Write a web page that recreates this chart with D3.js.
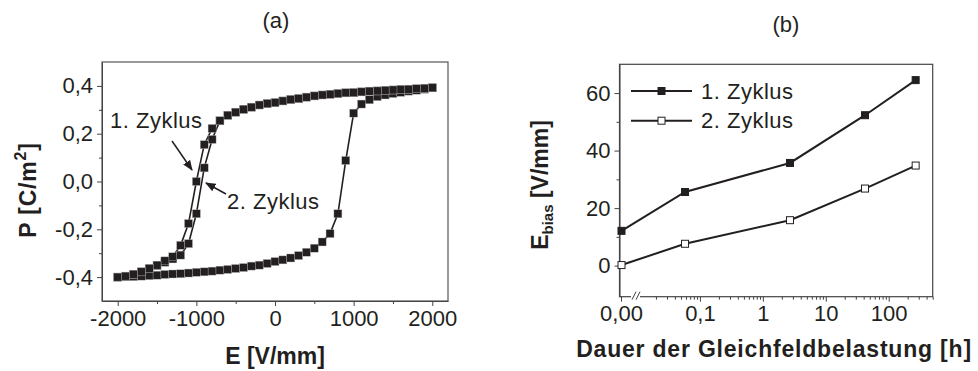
<!DOCTYPE html>
<html lang="de">

<head>
    <meta charset="UTF-8">
    <script src="https://d3js.org/d3.v7.min.js"></script>
    <title>Hysterese und Ebias</title>
    <style>
        body { margin: 0; background: #fff; }
        text { font-family: "Liberation Sans", Arial, sans-serif; fill: #231f20; }
        .tick text { font-size: 22px; }
        .axis path, .axis line { stroke: #444; }
        .title { font-weight: bold; font-size: 23px; }
    </style>
</head>

<body>
    <svg id="chart" width="978" height="371"></svg>

    <script>
        // ---- data (a): P-E loop, E in V/mm, P in C/m^2 ----
        var eDown = [2000, 1900, 1800, 1700, 1600, 1500, 1400, 1300, 1200, 1100, 1000, 900, 800, 700, 600, 500, 400, 300, 200, 100, 0,
            -100, -200, -300, -400, -500, -600, -700, -800, -900, -1000, -1100, -1200, -1300, -1400, -1500, -1600, -1700, -1800, -1900, -2000];
        var pDown1 = [0.392, 0.390, 0.388, 0.386, 0.385, 0.383, 0.381, 0.379, 0.378, 0.375, 0.372, 0.371, 0.368, 0.365, 0.362, 0.358, 0.353, 0.347, 0.343, 0.337, 0.330,
            0.326, 0.320, 0.311, 0.302, 0.290, 0.277, 0.254, 0.222, 0.154, 0.000, -0.176, -0.267, -0.315, -0.332, -0.350, -0.364, -0.378, -0.388, -0.396, -0.400];
        var pDown2 = [0.392, 0.390, 0.388, 0.386, 0.385, 0.383, 0.381, 0.379, 0.378, 0.375, 0.372, 0.371, 0.368, 0.365, 0.362, 0.358, 0.353, 0.347, 0.343, 0.337, 0.330,
            0.326, 0.320, 0.311, 0.302, 0.290, 0.277, 0.254, 0.176, 0.057, -0.135, -0.260, -0.308, -0.324, -0.338, -0.352, -0.364, -0.378, -0.388, -0.396, -0.400];
        var eUp = [-2000, -1900, -1800, -1700, -1600, -1500, -1400, -1300, -1200, -1100, -1000, -900, -800, -700, -600, -500, -400, -300, -200, -100, 0,
            100, 200, 300, 400, 500, 600, 700, 800, 900, 1000, 1100, 1200, 1300, 1400, 1500, 1600, 1700, 1800, 1900, 2000];
        var pUp = [-0.400, -0.399, -0.398, -0.396, -0.394, -0.392, -0.389, -0.387, -0.386, -0.383, -0.380, -0.378, -0.375, -0.371, -0.368, -0.364, -0.360, -0.354, -0.350, -0.343, -0.335,
            -0.328, -0.320, -0.310, -0.296, -0.279, -0.253, -0.218, -0.135, 0.088, 0.286, 0.324, 0.342, 0.355, 0.362, 0.368, 0.373, 0.378, 0.382, 0.386, 0.392];

        // ---- data (b): E_bias vs. duration ----
        var dauer = [0, 0.058, 2.7, 42, 268];
        var zyklus1 = [12.1, 25.6, 35.7, 52.3, 64.5];
        var zyklus2 = [0.2, 7.6, 15.8, 26.8, 34.8];
        var legendNames = ["1. Zyklus", "2. Zyklus"];

        // tick labels
        var aTicksX = [-2000, -1000, 0, 1000, 2000];
        var aTicksY = [-0.4, -0.2, 0, 0.2, 0.4];
        var bTicksY = [0, 20, 40, 60];
        var bTicksX = [0.1, 1, 10, 100];
        var bLabelsX = ["0,1", "1", "10", "100"];

        var svg = d3.select("#chart");
        var comma = function (d) { return d3.format(".1f")(d).replace(".", ",").replace("−", "-"); };

        function zip(xs, ys) {
            return xs.map(function (x, i) { return [x, ys[i]]; });
        }

        // ================= panel (a) =================
        var A = { left: 102, right: 448, top: 62, bottom: 301 };
        var xA = d3.scaleLinear().domain([-2200, 2200]).range([A.left, A.right]);
        var yA = d3.scaleLinear().domain([-0.5, 0.5]).range([A.bottom, A.top]);

        var ga = svg.append("g");

        // frame
        ga.append("rect")
            .attr("x", A.left).attr("y", A.top)
            .attr("width", A.right - A.left).attr("height", A.bottom - A.top)
            .attr("fill", "none").attr("stroke", "#555").attr("stroke-width", 1.2);

        // axes (minor ticks first, then labelled major ticks)
        ga.append("g").attr("class", "axis")
            .attr("transform", "translate(0," + A.bottom + ")")
            .call(d3.axisBottom(xA).tickValues([-1500, -500, 500, 1500]).tickSize(3).tickSizeOuter(0).tickFormat(""));
        ga.append("g").attr("class", "axis")
            .attr("transform", "translate(0," + A.bottom + ")")
            .call(d3.axisBottom(xA).tickValues(aTicksX).tickSize(5).tickSizeOuter(0).tickPadding(4)
                .tickFormat(function (d) { return d < 0 ? "-" + Math.abs(d) : d; }))
            .call(function (g) { g.select(".domain").remove(); });

        ga.append("g").attr("class", "axis")
            .attr("transform", "translate(" + A.left + ",0)")
            .call(d3.axisLeft(yA).tickValues([-0.3, -0.1, 0.1, 0.3]).tickSize(3).tickSizeOuter(0).tickFormat(""));
        ga.append("g").attr("class", "axis")
            .attr("transform", "translate(" + A.left + ",0)")
            .call(d3.axisLeft(yA).tickValues(aTicksY).tickSize(5).tickSizeOuter(0).tickPadding(4).tickFormat(comma))
            .call(function (g) { g.select(".domain").remove(); });

        ga.selectAll(".tick text").attr("fill", "#231f20");

        // loop lines + square markers
        var lineA = d3.line()
            .x(function (d) { return xA(d[0]); })
            .y(function (d) { return yA(d[1]); });

        var loops = [zip(eUp, pUp), zip(eDown, pDown2), zip(eDown, pDown1)];
        loops.forEach(function (pts) {
            ga.append("path").datum(pts)
                .attr("d", lineA)
                .attr("fill", "none")
                .attr("stroke", "#231f20")
                .attr("stroke-width", 1.6);
        });
        loops.forEach(function (pts) {
            ga.append("g").selectAll("rect")
                .data(pts)
                .enter()
                .append("rect")
                .attr("x", function (d) { return xA(d[0]) - 4; })
                .attr("y", function (d) { return yA(d[1]) - 4; })
                .attr("width", 8).attr("height", 8)
                .attr("fill", "#231f20")
                .attr("stroke", "#bbb").attr("stroke-width", 0.4);
        });

        // annotations
        var marker = svg.append("defs").append("marker")
            .attr("id", "arr").attr("viewBox", "0 0 10 10")
            .attr("refX", 9).attr("refY", 5)
            .attr("markerWidth", 7).attr("markerHeight", 7)
            .attr("orient", "auto");
        marker.append("path").attr("d", "M0,1 L10,5 L0,9 z").attr("fill", "#231f20");

        ga.append("text").attr("x", 110).attr("y", 128).attr("font-size", 22).attr("letter-spacing", 0.5).text("1. Zyklus");
        ga.append("line")
            .attr("x1", 172).attr("y1", 141).attr("x2", 192).attr("y2", 170)
            .attr("stroke", "#231f20").attr("stroke-width", 1.5).attr("marker-end", "url(#arr)");
        ga.append("text").attr("x", 227).attr("y", 209).attr("font-size", 22).attr("letter-spacing", 0.5).text("2. Zyklus");
        ga.append("line")
            .attr("x1", 226).attr("y1", 194).attr("x2", 206).attr("y2", 183)
            .attr("stroke", "#231f20").attr("stroke-width", 1.5).attr("marker-end", "url(#arr)");

        // titles
        ga.append("text").attr("x", 276).attr("y", 28).attr("font-size", 22)
            .attr("text-anchor", "middle").text("(a)");
        ga.append("text").attr("class", "title").attr("x", (A.left + A.right) / 2).attr("y", 364)
            .attr("text-anchor", "middle").text("E [V/mm]");
        var yt = ga.append("text").attr("class", "title")
            .attr("transform", "translate(36," + 190 + ") rotate(-90)")
            .attr("text-anchor", "middle").attr("letter-spacing", 0.8);
        yt.append("tspan").text("P [C/m");
        yt.append("tspan").attr("font-size", 16).attr("dy", -10).text("2");
        yt.append("tspan").attr("dy", 10).text("]");

        // ================= panel (b) =================
        var B = { left: 619.5, right: 932.7, top: 64.3, bottom: 296.7 };
        var xLog = d3.scaleLog().domain([0.01, 500]).range([637, B.right]);
        var xZero = B.left + 2;  // the 0 h point sits left of the axis break
        var xB = function (d) { return d === 0 ? xZero : xLog(d); };
        var yB = d3.scaleLinear().domain([-10.8, 70]).range([B.bottom, B.top]);

        var gb = svg.append("g");

        gb.append("rect")
            .attr("x", B.left).attr("y", B.top)
            .attr("width", B.right - B.left).attr("height", B.bottom - B.top)
            .attr("fill", "none").attr("stroke", "#444").attr("stroke-width", 1.2);

        // log minor ticks
        var minor = [];
        [0.01, 0.1, 1, 10, 100].forEach(function (dec) {
            for (var k = 2; k <= 9; k++) {
                if (dec * k <= 500) minor.push(dec * k);
            }
        });
        gb.append("g").attr("class", "axis")
            .attr("transform", "translate(0," + B.bottom + ")")
            .call(d3.axisBottom(xLog).tickValues(minor).tickSize(3).tickSizeOuter(0).tickFormat(""))
            .call(function (g) { g.select(".domain").remove(); });
        gb.append("g").attr("class", "axis")
            .attr("transform", "translate(0," + B.bottom + ")")
            .call(d3.axisBottom(xLog).tickValues(bTicksX).tickSize(5).tickSizeOuter(0).tickPadding(4)
                .tickFormat(function (d, i) { return bLabelsX[i]; }))
            .call(function (g) { g.select(".domain").remove(); });

        // zero tick left of the break
        var zt = gb.append("g").attr("class", "tick").attr("transform", "translate(" + xZero + "," + B.bottom + ")");
        zt.append("line").attr("y2", 5).attr("stroke", "#444");
        zt.append("text").attr("y", 9).attr("dy", "0.71em").attr("text-anchor", "middle").attr("font-size", 22).text("0,00");

        // axis break marks
        gb.append("rect").attr("x", 631).attr("y", B.bottom - 3).attr("width", 9).attr("height", 6).attr("fill", "#fff");
        [632, 636].forEach(function (bx) {
            gb.append("line")
                .attr("x1", bx).attr("y1", B.bottom + 3).attr("x2", bx + 4).attr("y2", B.bottom - 5)
                .attr("stroke", "#444").attr("stroke-width", 1);
        });

        gb.append("g").attr("class", "axis")
            .attr("transform", "translate(" + B.left + ",0)")
            .call(d3.axisLeft(yB).tickValues([10, 30, 50]).tickSize(3).tickSizeOuter(0).tickFormat(""));
        gb.append("g").attr("class", "axis")
            .attr("transform", "translate(" + B.left + ",0)")
            .call(d3.axisLeft(yB).tickValues(bTicksY).tickSize(5).tickSizeOuter(0).tickPadding(4))
            .call(function (g) { g.select(".domain").remove(); });

        gb.selectAll(".tick text").attr("fill", "#231f20");

        var lineB = d3.line()
            .x(function (d) { return xB(d[0]); })
            .y(function (d) { return yB(d[1]); });

        var seriesB = [
            { pts: zip(dauer, zyklus1), fill: "#231f20" },
            { pts: zip(dauer, zyklus2), fill: "#fff" }
        ];
        seriesB.forEach(function (s) {
            gb.append("path").datum(s.pts)
                .attr("d", lineB)
                .attr("fill", "none").attr("stroke", "#231f20").attr("stroke-width", 2);
            gb.append("g").selectAll("rect")
                .data(s.pts)
                .enter()
                .append("rect")
                .attr("x", function (d) { return xB(d[0]) - 3.5; })
                .attr("y", function (d) { return yB(d[1]) - 3.5; })
                .attr("width", 7).attr("height", 7)
                .attr("fill", s.fill)
                .attr("stroke", "#231f20").attr("stroke-width", 1);
        });

        // legend
        seriesB.forEach(function (s, i) {
            var ly = 91 + i * 29.7;
            gb.append("line").attr("x1", 631).attr("x2", 692).attr("y1", ly).attr("y2", ly)
                .attr("stroke", "#231f20").attr("stroke-width", 2);
            gb.append("rect").attr("x", 658).attr("y", ly - 3.5).attr("width", 7).attr("height", 7)
                .attr("fill", s.fill).attr("stroke", "#231f20").attr("stroke-width", 1);
            gb.append("text").attr("x", 701).attr("y", ly + 7.5).attr("font-size", 22).attr("letter-spacing", 0.5).text(legendNames[i]);
        });

        // titles
        gb.append("text").attr("x", 786).attr("y", 32).attr("font-size", 22)
            .attr("text-anchor", "middle").text("(b)");
        gb.append("text").attr("class", "title").attr("x", 774).attr("y", 357)
            .attr("text-anchor", "middle").attr("letter-spacing", 0.8).text("Dauer der Gleichfeldbelastung [h]");
        var ybt = gb.append("text").attr("class", "title")
            .attr("transform", "translate(548," + 185 + ") rotate(-90)")
            .attr("text-anchor", "middle");
        ybt.append("tspan").text("E");
        ybt.append("tspan").attr("font-size", 15).attr("dy", 5).text("bias");
        ybt.append("tspan").attr("dy", -5).text(" [V/mm]");
    </script>
</body>

</html>
